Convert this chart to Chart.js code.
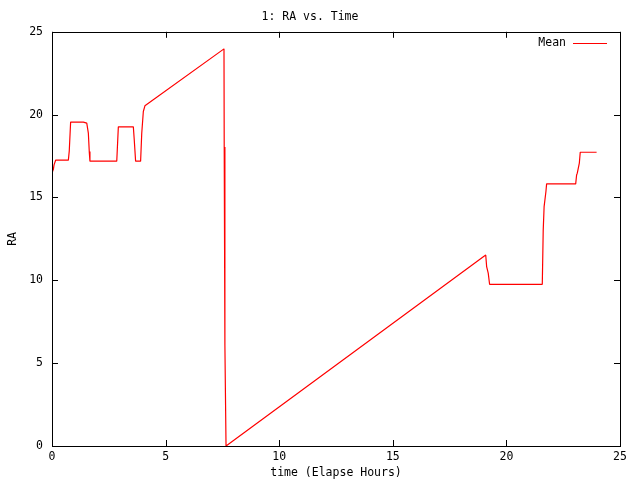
<!DOCTYPE html>
<html>
<head>
<meta charset="utf-8">
<script src="https://cdn.jsdelivr.net/npm/chart.js@4"></script>
<style>
  html, body { margin: 0; padding: 0; background: #fff; }
  canvas { display: block; }
</style>
</head>
<body>
<canvas id="raChart" width="640" height="480"></canvas>
<script>
// elapsed hours and mean RA
const hours = [0, 0.06, 0.09, 0.16, 0.72, 0.76, 0.82, 1.38, 1.53, 1.60, 1.64, 1.67,
  2.85, 2.87, 2.92, 3.58, 3.62, 3.68, 3.90, 3.95, 4.02, 4.09, 7.57, 7.58, 7.61, 7.66,
  19.09, 19.13, 19.20, 19.26, 21.58, 21.62, 21.66, 21.74, 21.77,
  23.05, 23.09, 23.12, 23.21, 23.25, 23.97];
const raMean = [16.47, 16.7, 16.97, 17.25, 17.25, 17.81, 19.55, 19.55, 19.49, 18.88, 17.77, 17.19,
  17.19, 17.77, 19.26, 19.26, 18.48, 17.19, 17.19, 18.88, 20.19, 20.53, 23.97, 18.04, 6.1, 0,
  11.53, 10.83, 10.43, 9.76, 9.76, 13.0, 14.45, 15.36, 15.82,
  15.82, 16.36, 16.47, 17.07, 17.73, 17.73];
const xTicks = [0, 5, 10, 15, 20, 25];
const yTicks = [0, 5, 10, 15, 20, 25];

const FONT = { family: '"DejaVu Sans Mono", monospace', size: 11.5, weight: 'normal' };

// gnuplot style frame: box border, inward ticks on all four sides, legend inside
const gnuplotFrame = {
  id: 'gnuplotFrame',
  afterDraw(chart) {
    const ctx = chart.ctx;
    const a = chart.chartArea;
    const xs = chart.scales.x, ys = chart.scales.y;
    const len = 6;
    ctx.save();
    ctx.strokeStyle = '#000';
    ctx.lineWidth = 1;
    ctx.strokeRect(Math.round(a.left) + 0.5, Math.round(a.top) + 0.5,
      Math.round(a.right - a.left), Math.round(a.bottom - a.top));
    ctx.beginPath();
    xTicks.forEach(v => {
      const px = Math.round(xs.getPixelForValue(v)) + 0.5;
      ctx.moveTo(px, a.bottom); ctx.lineTo(px, a.bottom - len);
      ctx.moveTo(px, a.top); ctx.lineTo(px, a.top + len);
    });
    yTicks.forEach(v => {
      const py = Math.round(ys.getPixelForValue(v)) + 0.5;
      ctx.moveTo(a.left, py); ctx.lineTo(a.left + len, py);
      ctx.moveTo(a.right, py); ctx.lineTo(a.right - len, py);
    });
    ctx.stroke();

    // legend entry
    const ds = chart.data.datasets[0];
    const ly = a.top + 11;
    ctx.font = FONT.size + 'px ' + FONT.family;
    ctx.fillStyle = '#000';
    ctx.textAlign = 'right';
    ctx.textBaseline = 'middle';
    ctx.fillText(ds.label, a.right - 54, ly);
    ctx.strokeStyle = ds.borderColor;
    ctx.beginPath();
    ctx.moveTo(a.right - 47, Math.round(ly) + 0.5);
    ctx.lineTo(a.right - 13, Math.round(ly) + 0.5);
    ctx.stroke();
    ctx.restore();
  }
};

new Chart(document.getElementById('raChart'), {
  type: 'line',
  data: {
    labels: hours,
    datasets: [{
      label: 'Mean',
      data: hours.map((h, i) => ({ x: h, y: raMean[i] })),
      borderColor: '#ff0000',
      borderWidth: 1.2,
      borderJoinStyle: 'bevel',
      pointRadius: 0,
      tension: 0,
      fill: false
    }]
  },
  options: {
    responsive: false,
    animation: false,
    devicePixelRatio: 1,
    layout: { padding: { top: 0, right: 20, bottom: 0, left: 0 } },
    plugins: {
      legend: { display: false },
      tooltip: { enabled: false },
      title: {
        display: true,
        text: '1: RA vs. Time',
        color: '#000',
        font: FONT,
        padding: { top: 10, bottom: 8 }
      }
    },
    scales: {
      x: {
        type: 'linear',
        min: 0,
        max: 25,
        afterFit: s => { s.height = 34; },
        afterBuildTicks: s => { s.ticks = xTicks.map(v => ({ value: v })); },
        grid: { display: false, drawTicks: false },
        border: { display: false },
        ticks: { color: '#000', font: FONT, padding: 4, maxRotation: 0 },
        title: {
          display: true,
          text: 'time (Elapse Hours)',
          color: '#000',
          font: FONT,
          padding: { top: 0, bottom: 0 }
        }
      },
      y: {
        type: 'linear',
        min: 0,
        max: 25,
        afterFit: s => { s.width = 52; },
        afterBuildTicks: s => { s.ticks = yTicks.map(v => ({ value: v })); },
        grid: { display: false, drawTicks: false },
        border: { display: false },
        ticks: { color: '#000', font: FONT, padding: 9 },
        title: {
          display: true,
          text: 'RA',
          color: '#000',
          font: FONT,
          padding: { top: 6, bottom: 0 }
        }
      }
    }
  },
  plugins: [gnuplotFrame]
});
</script>
</body>
</html>
